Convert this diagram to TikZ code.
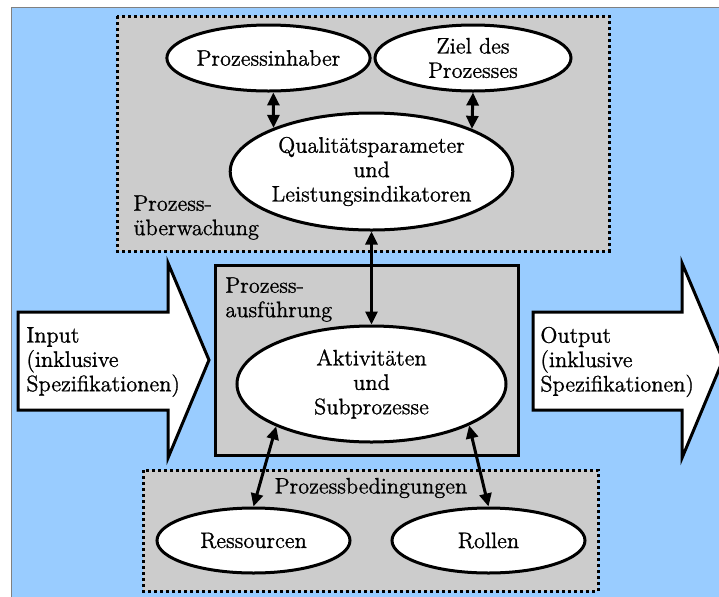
\documentclass[tikz,border=0pt]{standalone}
\usepackage{fontspec}
\setmainfont{Latin Modern Roman}[FakeBold=1]
\usetikzlibrary{shapes.geometric,arrows.meta}
\definecolor{skyblue}{HTML}{99CCFF}
\definecolor{panelgray}{HTML}{CCCCCC}
\definecolor{frameline}{HTML}{808080}
\begin{document}
\begin{tikzpicture}[x=0.5pt,y=-0.5pt,
  every node/.style={font=\fontsize{11.2}{12.2}\selectfont},
  bubble/.style={ellipse,draw,line width=1.5pt,fill=white,inner sep=0pt,align=center},
  dotbox/.style={draw,fill=panelgray,line width=1.5pt,dash pattern=on 1.5pt off 1.5pt},
  solidbox/.style={draw,fill=panelgray,line width=1.5pt},
  bigarrow/.style={draw,fill=white,line width=1.5pt,miter limit=20},
  link/.style={line width=1.5pt,{Triangle[length=6.5pt,width=6pt]}-{Triangle[length=6.5pt,width=6pt]}},
  caption/.style={inner sep=0pt,align=left,anchor=north west}]
\useasboundingbox (0,0) rectangle (719,596);
\clip (0,0) rectangle (719,596);

% background
\fill[white] (0,0) rectangle (719,596);
\draw[fill=skyblue,draw=frameline,line width=0.5pt] (11,7) rectangle (740,620);

% panels
\draw[dotbox] (117,16) rectangle (609,251);
\draw[solidbox] (215,265) rectangle (518,455);
\draw[dotbox] (143,470) rectangle (598,591);

% input / output arrows
\draw[bigarrow] (18,312) -- (168,312) -- (168,263) -- (209,360) -- (168,458) -- (168,410) -- (18,410) -- cycle;
\draw[bigarrow] (533,312) -- (682,312) -- (682,263) -- (723,360) -- (682,458) -- (682,410) -- (533,410) -- cycle;
\node[caption,anchor=west] (input) at (26,362) {Input\\(inklusive\\Spezifikationen)};
\node[caption,anchor=west] (output) at (540,362) {Output\\(inklusive\\Spezifikationen)};

% panel captions
\node[caption] (ueb) at (133,195) {Prozess-\\überwachung};
\node[caption] (ausf) at (225,277) {Prozess-\\ausführung};
\node[inner sep=0pt] (bed) at (371,488) {Prozessbedingungen};

% ellipses
\node[bubble,minimum width=96.5pt,minimum height=33pt] (pi) at (268.5,58) {Prozessinhaber};
\node[bubble,minimum width=98pt,minimum height=33pt] (ziel) at (473,58) {Ziel des\\Prozesses};
\node[bubble,minimum width=134.5pt,minimum height=58.5pt] (qual) at (371.5,171.5) {Qualitätsparameter\\und\\Leistungsindikatoren};
\node[bubble,minimum width=134.5pt,minimum height=58pt] (akt) at (371.5,384) {Aktivitäten\\und\\Subprozesse};
\node[bubble,minimum width=96.5pt,minimum height=32.5pt] (res) at (253.5,540.5) {Ressourcen};
\node[bubble,minimum width=96.5pt,minimum height=32.5pt] (rol) at (488.5,540.5) {Rollen};

% connectors
\draw[link] (pi.-82) -- (qual.156);
\draw[link] (ziel.south) -- (qual.23);
\draw[link] (qual.south) -- (akt.north);
\draw[link] (akt.-156) -- (res.north);
\draw[link] (akt.-23) -- (rol.north);
\end{tikzpicture}
\end{document}
